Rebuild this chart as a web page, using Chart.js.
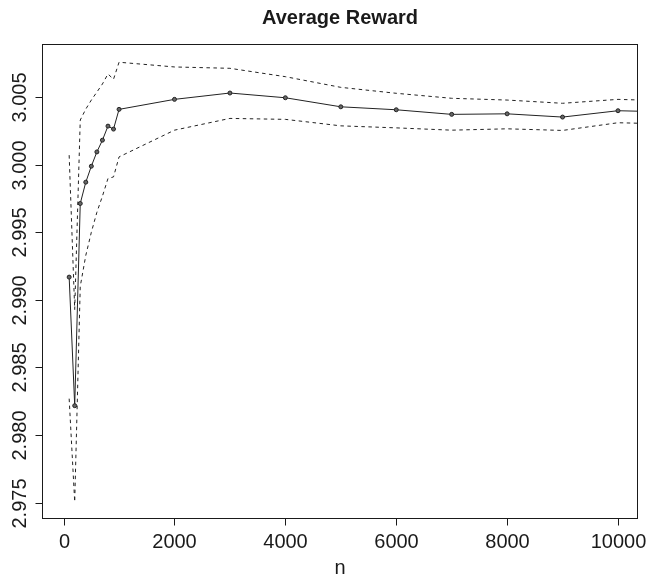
<!DOCTYPE html>
<html>
<head>
<meta charset="utf-8">
<title>Average Reward</title>
<script src="https://cdn.jsdelivr.net/npm/chart.js@4.4.0/dist/chart.umd.min.js"></script>
<style>
  html, body { margin: 0; padding: 0; background: #fff; }
  canvas { display: block; }
</style>
</head>
<body>
<canvas id="rewardChart" width="649" height="580"></canvas>
<script>
/* Data */
const nValues = [100, 200, 300, 400, 500, 600, 700, 800, 900, 1000,
                 2000, 3000, 4000, 5000, 6000, 7000, 8000, 9000, 10000, 11000];

const meanReward = [2.99169, 2.98217, 2.99714, 2.99872, 2.99990, 3.00096, 3.00183, 3.00287, 3.00265, 3.00411,
                    3.00485, 3.00532, 3.00497, 3.00430, 3.00408, 3.00374, 3.00378, 3.00354, 3.00401, 3.00391];

const upperBand = [3.00072, 2.98929, 3.00332, 3.00413, 3.00480, 3.00539, 3.00599, 3.00673, 3.00634, 3.00760,
                   3.00725, 3.00715, 3.00653, 3.00574, 3.00530, 3.00493, 3.00480, 3.00456, 3.00485, 3.00473];

const lowerBand = [2.98269, 2.97505, 2.99100, 2.99330, 2.99501, 2.99649, 2.99768, 2.99899, 2.99911, 3.00059,
                   3.00257, 3.00344, 3.00337, 3.00289, 3.00274, 3.00257, 3.00267, 3.00255, 3.00312, 3.00302];

const xTicks = [0, 2000, 4000, 6000, 8000, 10000];
const yTicks = [2.975, 2.980, 2.985, 2.990, 2.995, 3.000, 3.005];
const yTickLabels = ["2.975", "2.980", "2.985", "2.990", "2.995", "3.000", "3.005"];

const titleText = "Average Reward";
const xTitle = "n";

const FONT = '"Liberation Sans", Arial, Helvetica, sans-serif';
const INK = "#1a1a1a";

function toPoints(ys) {
    return nValues.map((n, i) => ({ x: n, y: ys[i] }));
}

/* R-like frame, ticks and labels drawn from the chart's own scales */
const rAxes = {
    id: 'rAxes',
    afterDraw(chart) {
        const ctx = chart.ctx;
        const area = chart.chartArea;
        const xs = chart.scales.x;
        const ys = chart.scales.y;
        const left = Math.round(area.left) + 0.5;
        const right = Math.round(area.right) - 0.5;
        const top = Math.round(area.top) + 0.5;
        const bottom = Math.round(area.bottom) - 0.5;

        ctx.save();
        ctx.strokeStyle = INK;
        ctx.lineWidth = 1;
        ctx.strokeRect(left, top, right - left, bottom - top);

        ctx.fillStyle = INK;
        ctx.font = '20px ' + FONT;

        // x axis
        ctx.textAlign = 'center';
        ctx.textBaseline = 'middle';
        xTicks.forEach(v => {
            const px = Math.round(xs.getPixelForValue(v)) + 0.5;
            ctx.beginPath();
            ctx.moveTo(px, bottom);
            ctx.lineTo(px, bottom + 7);
            ctx.stroke();
            ctx.fillText(String(v), px, bottom + 24);
        });

        // y axis (labels parallel to the axis)
        yTicks.forEach((v, i) => {
            const py = Math.round(ys.getPixelForValue(v)) + 0.5;
            ctx.beginPath();
            ctx.moveTo(left, py);
            ctx.lineTo(left - 7, py);
            ctx.stroke();
            ctx.save();
            ctx.translate(20, py);
            ctx.rotate(-Math.PI / 2);
            ctx.fillText(yTickLabels[i], 0, 0);
            ctx.restore();
        });

        // axis title and main title
        const midX = (area.left + area.right) / 2;
        ctx.fillText(xTitle, midX, 568);
        ctx.font = 'bold 20px ' + FONT;
        ctx.fillText(titleText, midX, 18);
        ctx.restore();
    }
};

const dashStyle = {
    borderColor: "#222",
    borderWidth: 1,
    borderDash: [3.5, 3.5],
    pointRadius: 0,
    showLine: true,
    fill: false
};

const config = {
    type: 'scatter',
    data: {
        datasets: [
            Object.assign({ label: 'Upper', data: toPoints(upperBand) }, dashStyle),
            Object.assign({ label: 'Lower', data: toPoints(lowerBand) }, dashStyle),
            {
                label: 'Average reward',
                data: toPoints(meanReward),
                showLine: true,
                borderColor: "#222",
                borderWidth: 1,
                pointRadius: 2,
                pointBackgroundColor: "#666",
                pointBorderColor: "#222",
                pointBorderWidth: 1,
                fill: false
            }
        ]
    },
    options: {
        responsive: false,
        animation: false,
        devicePixelRatio: 1,
        layout: {
            padding: { left: 42, top: 44, right: 11, bottom: 61 }
        },
        plugins: {
            legend: { display: false },
            title: { display: false },
            tooltip: { enabled: false }
        },
        scales: {
            x: { type: 'linear', min: -390, max: 10361, display: false },
            y: { type: 'linear', min: 2.97378, max: 3.00895, display: false }
        }
    },
    plugins: [rAxes]
};

new Chart(document.getElementById('rewardChart'), config);
</script>
</body>
</html>
